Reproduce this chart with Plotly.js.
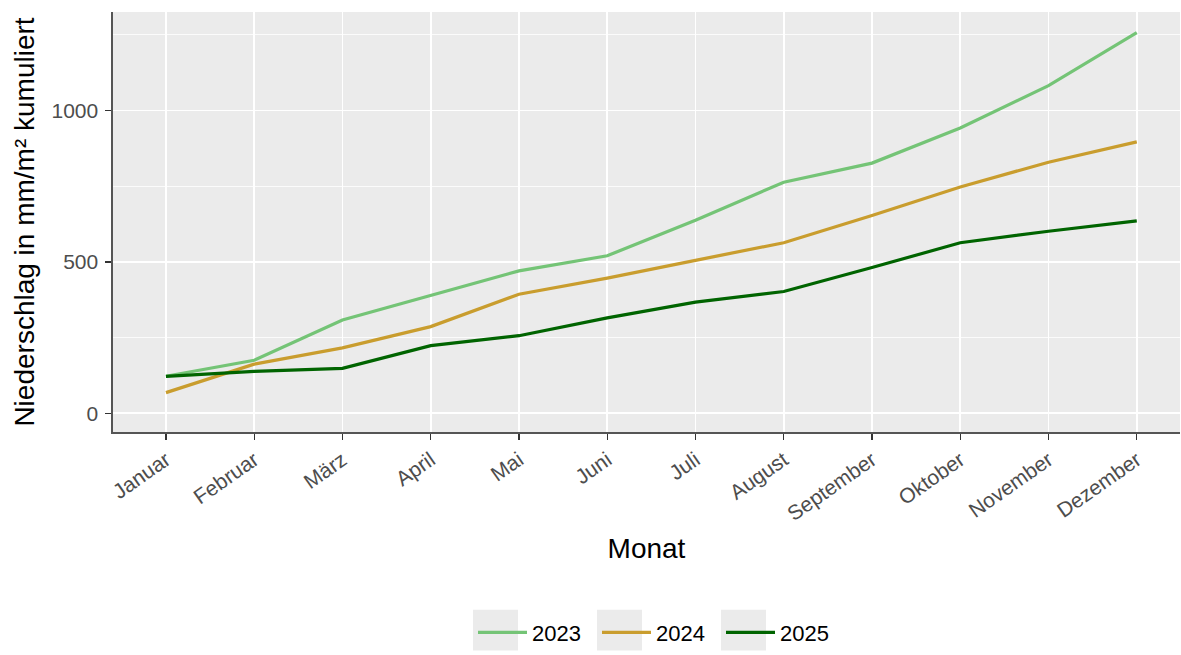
<!DOCTYPE html>
<html><head><meta charset="utf-8">
<script src="https://cdn.plot.ly/plotly-3.0.1.min.js"></script>
<style>body{margin:0;background:#fff}#c{width:1181px;height:655px}</style>
</head><body><div id="c"></div>
<script>
const months = ["Januar","Februar","März","April","Mai","Juni","Juli","August","September","Oktober","November","Dezember"];
const years = ["2023","2024","2025"];
const v2023 = [122,175,308,390,470,520,637,763,826,942,1082,1257];
const v2024 = [68,162,216,286,393,446,505,563,653,747,829,896];
const v2025 = [122,138,148,223,256,315,367,402,481,563,601,635];
const colors = ["#74c476","#c99d2e","#006400"];
const series = [v2023, v2024, v2025];

const traces = series.map((s,i)=>({
  x: months, y: s, type:"scatter", mode:"lines", name: years[i],
  line:{color:colors[i], width:3.2}
}));

const font = "Liberation Sans, Arial, sans-serif";
const keyX = [473,597,721];
const shapes = keyX.map(x0=>({type:"rect", xref:"paper", yref:"paper", layer:"below",
  x0:(x0-113)/1067, x1:(x0+45-113)/1067, y0:(435-655)/423, y1:(435-614)/423,
  fillcolor:"#ebebeb", line:{width:0}}));

const layout = {
  width:1181, height:655,
  margin:{l:113, r:1, t:12, b:220},
  paper_bgcolor:"#fff", plot_bgcolor:"#ebebeb",
  font:{family:font, color:"#000"},
  showlegend:true,
  legend:{orientation:"h", x:(473-113)/1067, xanchor:"left", y:(435-637)/423, yanchor:"middle",
    font:{size:22, family:font, color:"#000"}, bgcolor:"rgba(0,0,0,0)", itemwidth:49,
    entrywidth:60, entrywidthmode:"pixels", tracegroupgap:0},
  xaxis:{type:"category", categoryorder:"array", categoryarray:months,
    range:[-0.6, 11.49], showgrid:true, gridcolor:"#fff", gridwidth:1.6,
    showline:true, linecolor:"#555", linewidth:1.6, ticks:"outside", ticklen:6, tickcolor:"#333", tickwidth:1.4,
    tickangle:-35, tickfont:{size:21, color:"#4d4d4d", family:font},
    title:{text:"Monat", font:{size:28, color:"#000", family:font}, standoff:14},
    zeroline:false, fixedrange:true, automargin:false},
  yaxis:{range:[-62,1325], tickvals:[0,500,1000], showgrid:true, gridcolor:"#fff", gridwidth:1.6,
    minor:{tickvals:[250,750,1250], showgrid:true, gridcolor:"#fff", gridwidth:0.8, ticks:""},
    showline:true, linecolor:"#555", linewidth:1.6, ticks:"outside", ticklen:6, tickcolor:"#333", tickwidth:1.4,
    ticklabelstandoff:3,
    tickfont:{size:21, color:"#4d4d4d", family:font},
    title:{text:"Niederschlag in mm/m² kumuliert", font:{size:28, color:"#000", family:font}, standoff:8},
    zeroline:false, fixedrange:true, automargin:false},
  shapes: shapes
};
Plotly.newPlot("c", traces, layout, {displayModeBar:false, staticPlot:true});
</script></body></html>
